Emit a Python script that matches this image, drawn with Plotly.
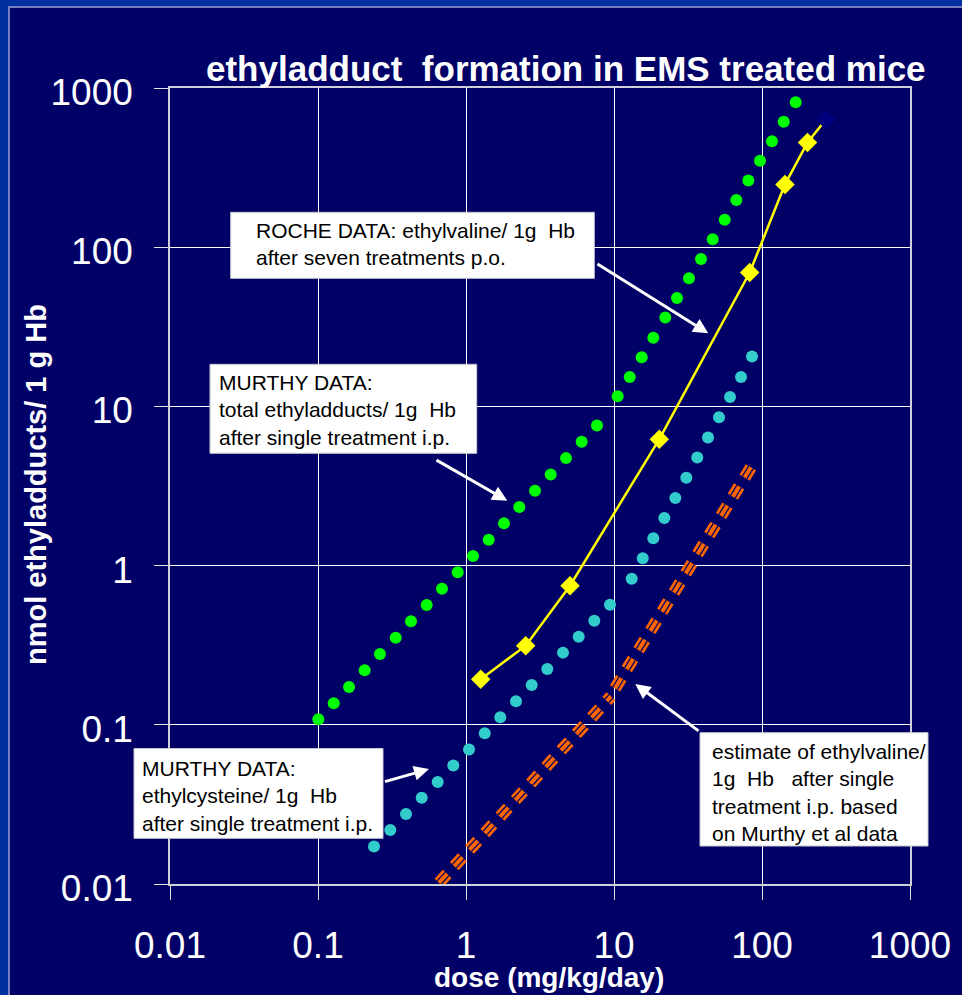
import plotly.graph_objects as go

# ---------------- data ----------------
# MURTHY DATA: total ethyladducts / 1 g Hb after single treatment i.p. (green dotted curve)
total_dose = [0.1005, 0.1277, 0.1621, 0.2067, 0.2623, 0.3350, 0.4250, 0.5427, 0.6884, 0.8789,
              1.115, 1.423, 1.806, 2.292, 2.926, 3.735, 4.740, 6.050, 7.675, 10.59,
              12.77, 15.39, 18.43, 22.22, 26.65, 32.12, 38.71, 46.44, 55.98, 67.06,
              80.83, 96.94, 116.8, 140.2, 168.9]
total_adducts = [0.1085, 0.1367, 0.1730, 0.2202, 0.2787, 0.3527, 0.4470, 0.5657, 0.7158, 0.9074,
                 1.148, 1.453, 1.842, 2.332, 2.951, 3.740, 4.733, 5.989, 7.591, 11.59,
                 15.32, 20.36, 26.99, 36.14, 47.97, 63.76, 84.26, 112.0, 148.9, 197.7,
                 262.8, 349.3, 463.7, 613.7, 814.6]

# MURTHY DATA: ethylcysteine / 1 g Hb after single treatment i.p. (cyan dotted curve)
cys_dose = [0.2390, 0.3080, 0.3932, 0.5019, 0.6439, 0.8208, 1.048, 1.338, 1.705, 2.177,
            2.779, 3.542, 4.522, 5.773, 7.360, 9.397, 13.17, 15.63, 18.43, 21.88,
            25.96, 30.80, 36.54, 43.17, 51.24, 60.79, 72.13, 85.60]
cys_adducts = [0.01721, 0.02182, 0.02750, 0.03478, 0.04365, 0.05549, 0.06995, 0.08863, 0.1117, 0.1407,
               0.1781, 0.2244, 0.2840, 0.3579, 0.4509, 0.5682, 0.8273, 1.111, 1.483, 1.989,
               2.656, 3.560, 4.781, 6.383, 8.559, 11.47, 15.32, 20.57]

# ROCHE DATA: ethylvaline / 1 g Hb after seven treatments p.o. (yellow diamonds)
roche_dose = [1.257, 2.532, 5.043, 20.24, 82.59, 143.0, 203.0, 269.4]
roche_valine = [0.1934, 0.3141, 0.7476, 6.228, 69.34, 248.0, 455.0, 631.7]

# estimate of ethylvaline (orange dashed line, two segments)
est_dose_low = [0.6571, 9.543]
est_val_low = [0.01019, 0.1509]
est_dose_high = [10.16, 87.36]
est_val_high = [0.1694, 4.383]

tick_vals = [0.01, 0.1, 1, 10, 100, 1000]
tick_text = ["0.01", "0.1", "1", "10", "100", "1000"]

# ---------------- layout geometry ----------------
W, H = 962, 995
L, R, T, B = 170, 52, 88, 111
PW, PH = W - L - R, H - T - B


def px(xpix):
    return (xpix - L) / PW


def py(ypix):
    return (H - B - ypix) / PH


NAVY = "#000066"
BLUE = "#0030A0"
FONT = "Liberation Sans, Arial, sans-serif"

fig = go.Figure()

# orange dashed estimate line: triple-stripe dashes
DASH = "12px,10.5px"
for xs, ys in [(est_dose_low, est_val_low), (est_dose_high, est_val_high)]:
    for width, color in [(12, "#FF6600"), (6.5, NAVY), (4, "#FF6600")]:
        fig.add_trace(go.Scatter(x=xs, y=ys, mode="lines",
                                 line=dict(color=color, width=width, dash=DASH),
                                 hoverinfo="skip", showlegend=False))

fig.add_trace(go.Scatter(x=cys_dose, y=cys_adducts, mode="markers",
                         marker=dict(color="#33CCCC", size=12, line=dict(width=0)),
                         showlegend=False))
fig.add_trace(go.Scatter(x=total_dose, y=total_adducts, mode="markers",
                         marker=dict(color="#00FF00", size=12, line=dict(width=0)),
                         showlegend=False))
fig.add_trace(go.Scatter(x=roche_dose, y=roche_valine, mode="lines+markers",
                         line=dict(color="#FFFF00", width=2.5),
                         marker=dict(symbol="diamond", size=15,
                                     color=["#FFFF00"] * (len(roche_dose) - 1) + ["#000080"],
                                     line=dict(width=0)),
                         showlegend=False))

axis_common = dict(type="log", range=[-2, 3], tickvals=tick_vals, ticktext=tick_text,
                   showgrid=True, gridcolor="#FFFFFF", gridwidth=1,
                   showline=True, linecolor="#D0D0D8", linewidth=1.5, mirror=True,
                   ticks="outside", ticklen=14, tickcolor="#E0E0E0", tickwidth=1,
                   zeroline=False,
                   tickfont=dict(family=FONT, size=37, color="white"))

fig.update_layout(
    width=W, height=H,
    margin=dict(l=L, r=R, t=T, b=B, pad=0),
    paper_bgcolor=BLUE,
    plot_bgcolor="rgba(0,0,0,0)",
    xaxis=dict(axis_common, ticklabelstandoff=14),
    yaxis=dict(axis_common, ticklabelstandoff=14, ticklabelshift=4),
    showlegend=False,
)

shapes = [
    dict(type="rect", xref="paper", yref="paper", layer="below",
         x0=px(9), x1=px(1000), y0=py(1100), y1=py(7),
         fillcolor=NAVY, line=dict(color="#9AA0D0", width=1.5)),
]
boxes = [(230.7, 212.3, 594.3, 278.3), (210, 364.3, 476.7, 453.3),
         (134, 748.5, 383, 838.3), (700, 732.7, 928, 846)]
for x0, y0, x1, y1 in boxes:
    shapes.append(dict(type="rect", xref="paper", yref="paper", layer="above",
                       x0=px(x0), x1=px(x1), y0=py(y1), y1=py(y0),
                       fillcolor="white", line=dict(color="#C8C8D0", width=1)))
fig.update_layout(shapes=shapes)

NB = "\u00a0"
texts = [
    (254, 244, "ROCHE DATA: ethylvaline/ 1g" + NB + " Hb<br>after seven treatments p.o."),
    (216.7, 410, "MURTHY DATA:<br>total ethyladducts/ 1g" + NB + " Hb<br>after single treatment i.p."),
    (140.3, 796, "MURTHY DATA:<br>ethylcysteine/ 1g" + NB + " Hb<br>after single treatment i.p."),
    (709.5, 792.5, "estimate of ethylvaline/<br>1g" + NB + " Hb" + NB + NB + " after single<br>treatment i.p. based<br>on Murthy et al data"),
]
annotations = []
for x, y, t in texts:
    annotations.append(dict(xref="paper", yref="paper", x=px(x), y=py(y), text=t,
                            showarrow=False, xanchor="left", yanchor="middle", align="left",
                            font=dict(family=FONT, size=21, color="black")))

arrows = [((708.3, 333.3), (596, 263)), ((507.3, 500.7), (435, 459.3)),
          ((429, 769), (383.5, 782)), ((635.3, 684), (700, 732))]
for (hx, hy), (tx, ty) in arrows:
    annotations.append(dict(xref="paper", yref="paper", x=px(hx), y=py(hy), text="",
                            showarrow=True, ax=tx - hx, ay=ty - hy, axref="pixel", ayref="pixel",
                            arrowhead=2, arrowsize=1, arrowwidth=3, arrowcolor="white",
                            standoff=0))

annotations.append(dict(xref="paper", yref="paper", x=px(566), y=py(68),
                        text="<b>ethyladduct" + NB + " formation in EMS treated mice</b>",
                        showarrow=False, xanchor="center", yanchor="middle",
                        font=dict(family=FONT, size=35, color="white")))
annotations.append(dict(xref="paper", yref="paper", x=px(549), y=py(978),
                        text="<b>dose (mg/kg/day)</b>",
                        showarrow=False, xanchor="center", yanchor="middle",
                        font=dict(family=FONT, size=28, color="white")))
annotations.append(dict(xref="paper", yref="paper", x=px(36), y=py(485),
                        text="<b>nmol ethyladducts/ 1 g Hb</b>", textangle=-90,
                        showarrow=False, xanchor="center", yanchor="middle",
                        font=dict(family=FONT, size=29, color="white")))
fig.update_layout(annotations=annotations)

page_css = ("document.documentElement.style.margin='0';"
            "document.documentElement.style.overflow='hidden';"
            "document.body.style.margin='0';"
            "document.body.style.overflow='hidden';"
            "document.body.style.background='" + BLUE + "';")

fig.write_html("out.html", post_script=page_css, config={"displayModeBar": False})
